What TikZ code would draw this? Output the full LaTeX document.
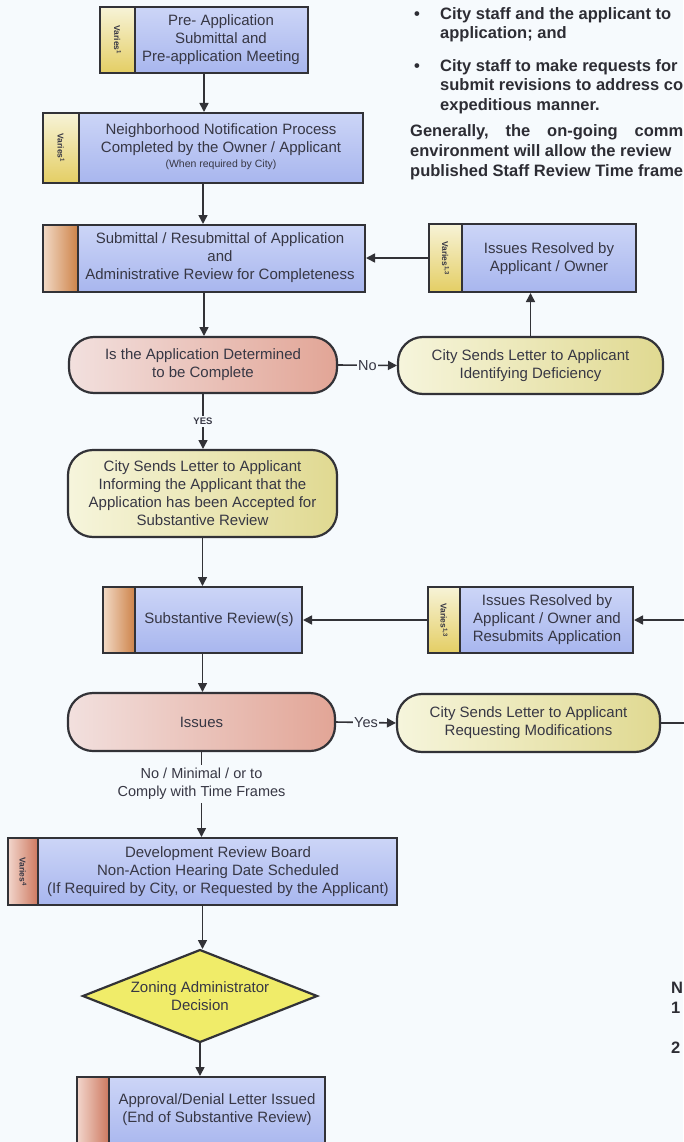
\documentclass[tikz,border=0pt]{standalone}
\usepackage{fontspec}
\setmainfont{Liberation Sans}
\usetikzlibrary{shapes.geometric,arrows.meta,calc}
\definecolor{bg}{RGB}{246,250,253}
\definecolor{ink}{RGB}{55,55,68}
\definecolor{lineC}{RGB}{50,50,55}
\definecolor{blueA}{RGB}{204,213,247}
\definecolor{blueB}{RGB}{168,182,238}
\definecolor{pinkA}{RGB}{242,224,222}
\definecolor{pinkB}{RGB}{226,165,150}
\definecolor{yelA}{RGB}{246,245,220}
\definecolor{yelB}{RGB}{224,217,145}
\definecolor{diaY}{RGB}{240,236,105}
\definecolor{ystripA}{RGB}{247,243,215}
\definecolor{ystripB}{RGB}{228,206,100}
\definecolor{ostripA}{RGB}{242,218,198}
\definecolor{ostripB}{RGB}{205,130,72}
\definecolor{rstripA}{RGB}{242,214,204}
\definecolor{rstripB}{RGB}{205,120,95}
\newcommand\mystrip[4]{%
  \path[#3] (#1.north west) rectangle ($(#1.south west)+(#2,0)$);
  \draw[edge] ($(#1.north west)+(#2,0)$) -- ($(#1.south west)+(#2,0)$);
  \draw[edge] (#1.north west) rectangle (#1.south east);
  \node[vtext] (#1V) at ($(#1.west)+(#2/2,0)$) {#4};
}
\begin{document}
\begin{tikzpicture}[x=1pt,y=-1pt,
  bbox/.style={rectangle, draw=none, outer sep=0pt, inner sep=0pt, top color=blueA, bottom color=blueB},
  pill/.style={rectangle, rounded corners=25pt, draw=lineC, line width=2.2pt, outer sep=0pt, inner sep=0pt,
    text=ink, align=center, font=\fontsize{15}{18}\selectfont},
  pinkpill/.style={pill, left color=pinkA, right color=pinkB},
  yelpill/.style={pill, left color=yelA, right color=yelB},
  ystrip/.style={top color=ystripA, bottom color=ystripB},
  ostrip/.style={left color=ostripA, right color=ostripB},
  rstrip/.style={left color=rstripA, right color=rstripB},
  txt/.style={text=ink, font=\fontsize{15}{18}\selectfont, align=center, inner sep=0pt},
  vtext/.style={rotate=-90, font=\bfseries\fontsize{8.5}{9}\selectfont, text=ink, inner sep=0pt},
  edge/.style={draw=lineC, line width=2.2pt},
  conn/.style={draw=lineC, line width=1.6pt},
  arr/.style={conn, -{Triangle[length=9pt,width=9pt]}, shorten >=1pt},
  lab/.style={fill=bg, text=ink, font=\fontsize{14.5}{18}\selectfont, inner sep=1.5pt, align=center},
  note/.style={text={rgb,255:red,45;green,45;blue,52}, font=\bfseries\fontsize{16.5}{19}\selectfont, anchor=base west, inner sep=0pt}
]
\fill[bg] (0,0) rectangle (683,1142);
\useasboundingbox (0,0) rectangle (683,1142);

% boxes
\node[bbox, minimum width=208pt, minimum height=66pt] (pre) at (204,40) {};
\mystrip{pre}{35}{ystrip}{Varies\textsuperscript{1}}
\node[txt] (preT) at (221,40) {Pre- Application\\Submittal and\\Pre-application Meeting};

\node[bbox, minimum width=320pt, minimum height=70pt] (nb) at (203,148) {};
\mystrip{nb}{36}{ystrip}{Varies\textsuperscript{1}}
\node[txt] (nbT) at (221,147) {Neighborhood Notification Process\\Completed by the Owner / Applicant\\[-3pt]{\fontsize{10.5}{12}\selectfont (When required by City)}};

\node[bbox, minimum width=322pt, minimum height=67pt] (sub) at (204,258.5) {};
\mystrip{sub}{35}{ostrip}{}
\node[txt] (subT) at (220,258) {Submittal / Resubmittal of Application\\and\\Administrative Review for Completeness};

\node[pinkpill, minimum width=268pt, minimum height=56pt] (det) at (203,365) {Is the Application Determined\\to be Complete};

\node[yelpill, minimum width=265pt, minimum height=57pt] (def) at (530.5,365.5) {City Sends Letter to Applicant\\Identifying Deficiency};

\node[bbox, minimum width=207pt, minimum height=68pt] (res1) at (532.5,258) {};
\mystrip{res1}{33}{ystrip}{Varies\textsuperscript{1,3}}
\node[txt] (res1T) at (549,258.5) {Issues Resolved by\\Applicant / Owner};

\node[yelpill, minimum width=269pt, minimum height=87pt] (acc) at (202.5,493.5) {City Sends Letter to Applicant\\Informing the Applicant that the\\Application has been Accepted for\\Substantive Review};

\node[bbox, minimum width=199pt, minimum height=66pt] (subrev) at (202.5,620) {};
\mystrip{subrev}{32}{ostrip}{}
\node[txt] (subrevT) at (219,620) {Substantive Review(s)};

\node[bbox, minimum width=205pt, minimum height=66pt] (res2) at (530.5,620) {};
\mystrip{res2}{32}{ystrip}{Varies\textsuperscript{1,3}}
\node[txt] (res2T) at (547,620) {Issues Resolved by\\Applicant / Owner and\\Resubmits Application};

\node[pinkpill, minimum width=267pt, minimum height=58pt] (iss) at (201.5,722) {Issues};

\node[yelpill, minimum width=263pt, minimum height=58pt] (mod) at (528.5,723) {City Sends Letter to Applicant\\Requesting Modifications};

\node[bbox, minimum width=389pt, minimum height=67pt] (drb) at (202.5,871.5) {};
\mystrip{drb}{30}{rstrip}{Varies\textsuperscript{4}}
\node[txt] (drbT) at (218,871.5) {Development Review Board\\Non-Action Hearing Date Scheduled\\(If Required by City, or Requested by the Applicant)};

\node[diamond, aspect=2.5, draw=lineC, line width=2.2pt, fill=diaY, outer sep=0pt, inner sep=0pt,
  minimum width=234pt, minimum height=92pt, text=ink, align=center, font=\fontsize{15}{18}\selectfont] (dia) at (200,996) {Zoning Administrator\\Decision};

\node[bbox, minimum width=248pt, minimum height=72pt] (appr) at (201,1113) {};
\mystrip{appr}{32}{rstrip}{}
\node[txt] (apprT) at (217,1110) {Approval/Denial Letter Issued\\(End of Substantive Review)};

\coordinate (inR) at (684,620);
\coordinate (outR) at (684,723);

% connectors
\draw[arr] (pre.south) -- (pre.south |- nb.north);
\draw[arr] (nb.south) -- (nb.south |- sub.north);
\draw[arr] (sub.south) -- (sub.south |- det.north);
\draw[arr] (det.east) -- node[lab] (noL) {No} (def.west);
\draw[arr] (def.north) -- (def.north |- res1.south);
\draw[arr] (res1.west) -- (res1.west -| sub.east);
\draw[arr] (det.south) -- node[lab, font=\bfseries\fontsize{9.5}{11}\selectfont, inner sep=2pt] (yesL) {YES} (det.south |- acc.north);
\draw[arr] (acc.south) -- (acc.south |- subrev.north);
\draw[arr] (res2.west) -- (res2.west -| subrev.east);
\draw[arr] (inR) -- (res2.east);
\draw[arr] (subrev.south) -- (subrev.south |- iss.north);
\draw[arr] (iss.east) -- node[lab] (yesR) {Yes} (mod.west);
\draw[conn] (mod.east) -- (outR);
\draw[arr] (iss.south) -- node[lab, pos=0.38, inner sep=3pt] (minL) {No / Minimal / or to\\Comply with Time Frames} (iss.south |- drb.north);
\draw[arr] (drb.south) -- (drb.south |- dia.north);
\draw[arr] (dia.south) -- (dia.south |- appr.north);

% notes text (top right)
\node[note] (n1b) at (414,20) {\textbullet};
\node[note] (n1) at (440,20) {City staff and the applicant to};
\node[note] (n2) at (440,39) {application; and};
\node[note] (n3b) at (414,72) {\textbullet};
\node[note] (n3) at (440,72) {City staff to make requests for};
\node[note] (n4) at (440,91) {submit revisions to address co};
\node[note] (n5) at (440,111) {expeditious manner.};
\node[note] (n6) at (410,137) {\makebox[273pt][l]{Generally,\hfill the\hfill on-going\hfill comm}};
\node[note] (n7) at (410,157) {environment will allow the review};
\node[note] (n8) at (410,176) {published Staff Review Time frame};

% footnote fragments (bottom right)
\node[note] (f0) at (671,993) {N};
\node[note] (f1) at (671,1013) {1};
\node[note] (f2) at (671,1053) {2};
\end{tikzpicture}
\end{document}
